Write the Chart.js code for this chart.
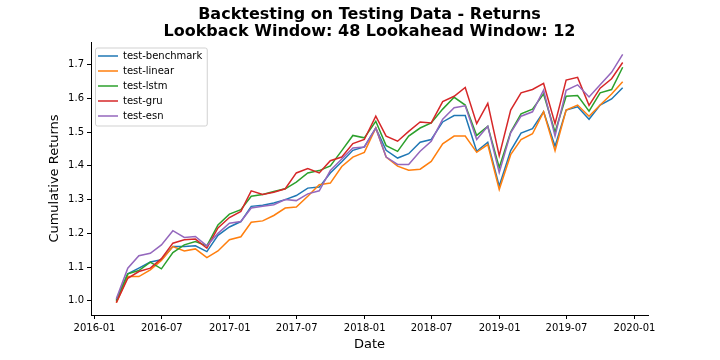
<!DOCTYPE html>
<html>
<head>
<meta charset="utf-8">
<script src="https://cdn.jsdelivr.net/npm/chart.js@4/dist/chart.umd.min.js"></script>
<style>
html, body { margin: 0; padding: 0; background: #ffffff; }
canvas { display: block; }
</style>
</head>
<body>
<canvas id="c" width="720" height="360"></canvas>
<script>
// ---------------- data ----------------
const dates = [
  '2016-02-29','2016-03-31','2016-04-30','2016-05-31','2016-06-30','2016-07-31','2016-08-31','2016-09-30','2016-10-31','2016-11-30','2016-12-31',
  '2017-01-31','2017-02-28','2017-03-31','2017-04-30','2017-05-31','2017-06-30','2017-07-31','2017-08-31','2017-09-30','2017-10-31','2017-11-30','2017-12-31',
  '2018-01-31','2018-02-28','2018-03-31','2018-04-30','2018-05-31','2018-06-30','2018-07-31','2018-08-31','2018-09-30','2018-10-31','2018-11-30','2018-12-31',
  '2019-01-31','2019-02-28','2019-03-31','2019-04-30','2019-05-31','2019-06-30','2019-07-31','2019-08-31','2019-09-30','2019-10-31','2019-11-30'
];

const benchmark = [1.003, 1.080, 1.097, 1.115, 1.122, 1.161, 1.161, 1.163, 1.146, 1.194, 1.219,
  1.235, 1.280, 1.283, 1.290, 1.300, 1.312, 1.334, 1.337, 1.379, 1.412, 1.446, 1.456,
  1.512, 1.446, 1.423, 1.436, 1.470, 1.478, 1.530, 1.549, 1.549, 1.443, 1.470, 1.340,
  1.445, 1.497, 1.510, 1.560, 1.458, 1.565, 1.575, 1.538, 1.580, 1.598, 1.631];

const linear = [0.995, 1.072, 1.072, 1.092, 1.120, 1.161, 1.148, 1.154, 1.128, 1.148, 1.181,
  1.190, 1.233, 1.237, 1.253, 1.275, 1.278, 1.310, 1.344, 1.349, 1.398, 1.426, 1.440,
  1.512, 1.426, 1.399, 1.387, 1.390, 1.413, 1.465, 1.488, 1.488, 1.440, 1.463, 1.330,
  1.433, 1.478, 1.495, 1.560, 1.445, 1.565, 1.580, 1.547, 1.580, 1.613, 1.649];

const lstm = [1.000, 1.080, 1.090, 1.115, 1.095, 1.143, 1.166, 1.176, 1.163, 1.225, 1.257,
  1.270, 1.310, 1.315, 1.324, 1.332, 1.352, 1.379, 1.386, 1.400, 1.445, 1.490, 1.483,
  1.532, 1.460, 1.443, 1.488, 1.512, 1.527, 1.568, 1.603, 1.580, 1.490, 1.517, 1.395,
  1.500, 1.554, 1.568, 1.613, 1.500, 1.606, 1.608, 1.562, 1.616, 1.626, 1.692];

const gru = [0.995, 1.067, 1.087, 1.097, 1.125, 1.171, 1.181, 1.183, 1.156, 1.216, 1.247,
  1.265, 1.326, 1.315, 1.322, 1.332, 1.379, 1.392, 1.379, 1.415, 1.426, 1.466, 1.478,
  1.547, 1.488, 1.473, 1.502, 1.530, 1.527, 1.590, 1.606, 1.632, 1.525, 1.585, 1.430,
  1.565, 1.616, 1.626, 1.644, 1.525, 1.654, 1.662, 1.579, 1.630, 1.658, 1.706];

const esn = [1.006, 1.097, 1.134, 1.141, 1.166, 1.208, 1.188, 1.191, 1.163, 1.200, 1.230,
  1.235, 1.275, 1.280, 1.285, 1.300, 1.297, 1.317, 1.326, 1.386, 1.420, 1.453, 1.456,
  1.512, 1.426, 1.404, 1.404, 1.443, 1.473, 1.538, 1.572, 1.578, 1.478, 1.517, 1.380,
  1.498, 1.547, 1.560, 1.624, 1.488, 1.624, 1.640, 1.604, 1.640, 1.677, 1.730];

const seriesNames = ['test-benchmark', 'test-linear', 'test-lstm', 'test-gru', 'test-esn'];
const seriesValues = [benchmark, linear, lstm, gru, esn];
const seriesColors = ['#1f77b4', '#ff7f0e', '#2ca02c', '#d62728', '#9467bd'];

const xTickLabels = ['2016-01', '2016-07', '2017-01', '2017-07', '2018-01', '2018-07', '2019-01', '2019-07', '2020-01'];
const yTickLabels = ['1.0', '1.1', '1.2', '1.3', '1.4', '1.5', '1.6', '1.7'];

const titleLines = ['Backtesting on Testing Data - Returns', 'Lookback Window: 48 Lookahead Window: 12'];
const xAxisTitle = 'Date';
const yAxisTitle = 'Cumulative Returns';

// ---------------- helpers ----------------
const DAY_MS = 86400000;
const ORIGIN = Date.UTC(2016, 0, 1);
function dayIndex(s) {
  const p = s.split('-').map(Number);
  return (Date.UTC(p[0], p[1] - 1, p.length > 2 ? p[2] : 1) - ORIGIN) / DAY_MS;
}
const xs = dates.map(dayIndex);
const xSpan = xs[xs.length - 1] - xs[0];
const xMin = xs[0] - 0.05 * xSpan;
const xMax = xs[xs.length - 1] + 0.05 * xSpan;

const allY = [].concat(...seriesValues);
const yLo = Math.min(...allY), yHi = Math.max(...allY);
const yMin = yLo - 0.05 * (yHi - yLo);
const yMax = yHi + 0.05 * (yHi - yLo);

const xTickValues = xTickLabels.map(dayIndex);
const yTickValues = yTickLabels.map(Number);

const FONT = "'DejaVu Sans', sans-serif";
const LEGEND_FONT_SIZE = 10;

// legend placement inside the axes (upper left) + matplotlib-style frame
const legendFrame = {
  id: 'legendFrame',
  afterLayout(chart) {
    const lg = chart.legend;
    if (!lg) return;
    const ca = chart.chartArea;
    lg.left = ca.left + 2;
    lg.top = ca.top + 4;
    lg.right = ca.right;
    lg.bottom = ca.bottom;
  },
  beforeDraw(chart) {
    const lg = chart.legend;
    if (!lg) return;
    const ctx = chart.ctx;
    const lo = lg.options.labels;
    const pad = lo.padding;
    const fs = LEGEND_FONT_SIZE;
    ctx.save();
    ctx.font = fs + "px " + FONT;
    let maxW = 0;
    seriesNames.forEach(n => { maxW = Math.max(maxW, ctx.measureText(n).width); });
    const x0 = lg.left + pad;
    const y0 = lg.top + pad;
    const left = x0 - 2.5;
    const top = y0 - 3;
    const right = x0 + lo.pointStyleWidth + fs / 2 + maxW + 5;
    const bottom = y0 + seriesNames.length * (fs + pad);
    const r = 2;
    ctx.beginPath();
    ctx.moveTo(left + r, top);
    ctx.lineTo(right - r, top);
    ctx.quadraticCurveTo(right, top, right, top + r);
    ctx.lineTo(right, bottom - r);
    ctx.quadraticCurveTo(right, bottom, right - r, bottom);
    ctx.lineTo(left + r, bottom);
    ctx.quadraticCurveTo(left, bottom, left, bottom - r);
    ctx.lineTo(left, top + r);
    ctx.quadraticCurveTo(left, top, left + r, top);
    ctx.closePath();
    ctx.fillStyle = 'rgba(255,255,255,0.8)';
    ctx.fill();
    ctx.strokeStyle = 'rgba(204,204,204,0.9)';
    ctx.lineWidth = 1;
    ctx.stroke();
    ctx.restore();
  }
};

const datasets = seriesNames.map((name, k) => ({
  label: name,
  data: dates.map((d, i) => ({ x: xs[i], y: seriesValues[k][i] })),
  borderColor: seriesColors[k],
  backgroundColor: seriesColors[k],
  borderWidth: 1.5,
  pointRadius: 0,
  pointHoverRadius: 0,
  tension: 0,
  fill: false,
  order: seriesNames.length - k
}));

new Chart(document.getElementById('c'), {
  type: 'line',
  data: { datasets },
  plugins: [legendFrame],
  options: {
    responsive: false,
    devicePixelRatio: 1,
    animation: false,
    layout: { padding: { left: 0, right: 72, top: 0, bottom: 0 } },
    plugins: {
      tooltip: { enabled: false },
      title: {
        display: true,
        fullSize: false,
        text: titleLines,
        color: '#000',
        font: { family: FONT, size: 16, weight: 'bold', lineHeight: 1.0625 },
        padding: { top: 6, bottom: 2 }
      },
      legend: {
        display: true,
        position: 'chartArea',
        align: 'start',
        labels: {
          color: '#000',
          font: { family: FONT, size: LEGEND_FONT_SIZE },
          usePointStyle: true,
          pointStyle: 'line',
          pointStyleWidth: 20,
          boxHeight: 10,
          padding: 5,
          sort: (a, b) => a.datasetIndex - b.datasetIndex
        }
      }
    },
    scales: {
      x: {
        type: 'linear',
        min: xMin,
        max: xMax,
        afterBuildTicks: (s) => { s.ticks = xTickValues.map(v => ({ value: v })); },
        afterFit: (s) => { s.height = 45; },
        grid: { display: true, drawOnChartArea: false, drawTicks: true, tickLength: 4, color: '#000', tickColor: '#000' },
        border: { display: true, color: '#000', width: 1 },
        ticks: {
          autoSkip: false,
          maxRotation: 0,
          padding: 3,
          color: '#000',
          font: { family: FONT, size: 10 },
          callback: (v) => { const i = xTickValues.indexOf(v); return i >= 0 ? xTickLabels[i] : ''; }
        },
        title: {
          display: true,
          text: xAxisTitle,
          color: '#000',
          font: { family: FONT, size: 13 },
          padding: { top: 0, bottom: 8 }
        }
      },
      y: {
        type: 'linear',
        min: yMin,
        max: yMax,
        afterBuildTicks: (s) => { s.ticks = yTickValues.map(v => ({ value: v })); },
        afterFit: (s) => { s.width = 91; },
        grid: { display: true, drawOnChartArea: false, drawTicks: true, tickLength: 4, color: '#000', tickColor: '#000' },
        border: { display: true, color: '#000', width: 1 },
        ticks: {
          padding: 3,
          color: '#000',
          font: { family: FONT, size: 10 },
          callback: (v) => { const i = yTickValues.indexOf(v); return i >= 0 ? yTickLabels[i] : ''; }
        },
        title: {
          display: true,
          text: yAxisTitle,
          color: '#000',
          font: { family: FONT, size: 13 },
          padding: { top: 47, bottom: 0 }
        }
      }
    }
  }
});
</script>
</body>
</html>
